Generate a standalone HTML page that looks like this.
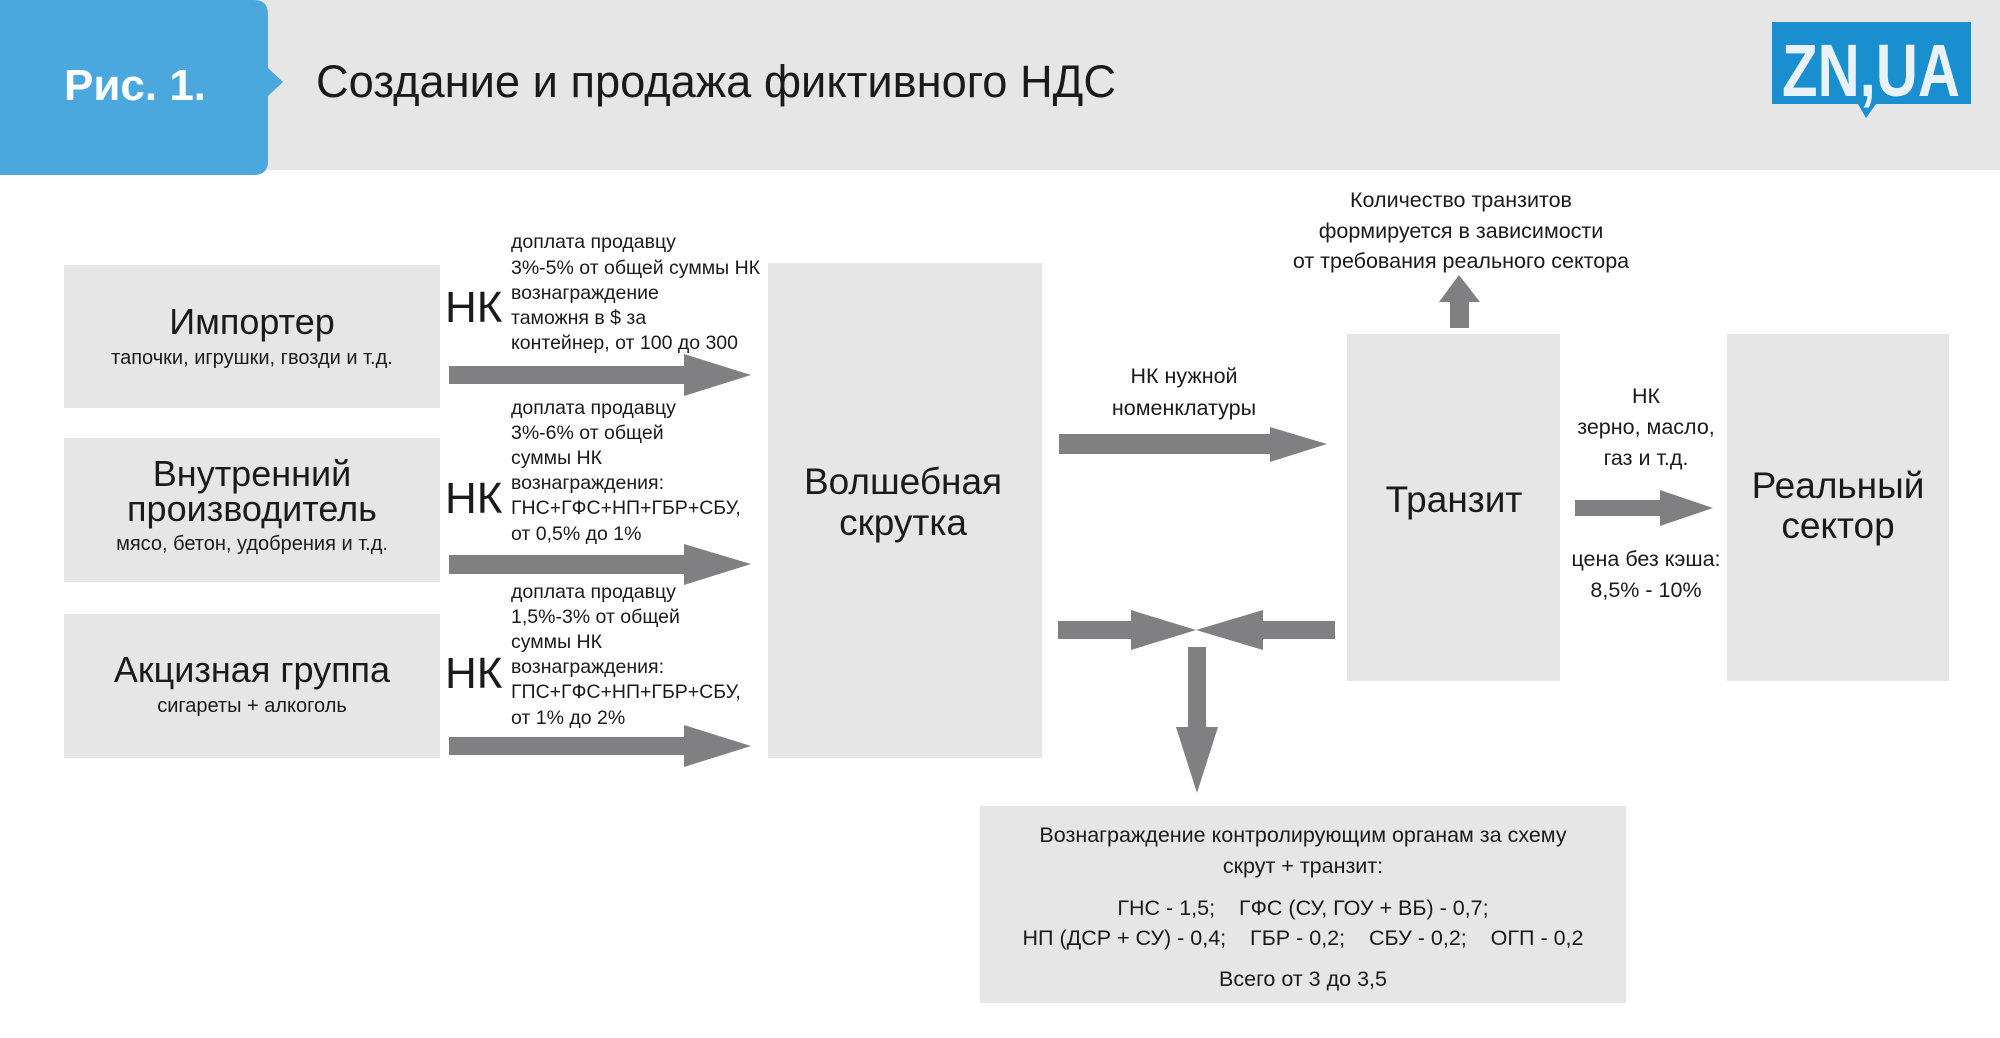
<!DOCTYPE html>
<html><head><meta charset="utf-8"><style>
html,body{margin:0;padding:0;background:#fff}
svg{display:block}
text{font-family:"Liberation Sans",sans-serif;fill:#1a1a1a;white-space:pre}
</style></head><body>
<svg width="2000" height="1038" viewBox="0 0 2000 1038" xmlns="http://www.w3.org/2000/svg" xml:space="preserve">
<rect x="0" y="0" width="2000" height="170" fill="#e6e6e6"/>
<path d="M0 0 H254 Q268 0 268 14 V68 L283 82 L268 96 V161 Q268 175 254 175 H0 Z" fill="#4aa8de"/>
<text x="64" y="100" font-size="44" font-weight="bold" style="fill:#fff">Рис. 1.</text>
<text x="316" y="97" font-size="45" textLength="800" lengthAdjust="spacingAndGlyphs">Создание и продажа фиктивного НДС</text>
<rect x="1772" y="22" width="199" height="82" fill="#1a8fd0"/>
<path d="M1858 104 L1866 118 L1876 104 Z" fill="#1a8fd0"/>
<text x="1871" y="96" font-size="74" font-weight="bold" text-anchor="middle" style="fill:#e8f2f8" textLength="178" lengthAdjust="spacingAndGlyphs">ZN,UA</text>

<g fill="#e6e6e6">
<rect x="64" y="265" width="376" height="143"/>
<rect x="64" y="438" width="376" height="144"/>
<rect x="64" y="614" width="376" height="144"/>
<rect x="768" y="263" width="274" height="495"/>
<rect x="1347" y="334" width="213" height="347"/>
<rect x="1727" y="334" width="222" height="347"/>
<rect x="980" y="806" width="646" height="197"/>
</g>

<g font-size="36" text-anchor="middle">
<text x="252" y="334">Импортер</text>
<text x="252" y="486">Внутренний</text>
<text x="252" y="521">производитель</text>
<text x="252" y="682">Акцизная группа</text>
<text x="903" y="494" font-size="37">Волшебная</text>
<text x="903" y="535" font-size="37">скрутка</text>
<text x="1454" y="512" font-size="37">Транзит</text>
<text x="1838" y="498" font-size="37">Реальный</text>
<text x="1838" y="538" font-size="37">сектор</text>
</g>
<g font-size="20" text-anchor="middle">
<text x="252" y="364">тапочки, игрушки, гвозди и т.д.</text>
<text x="252" y="550">мясо, бетон, удобрения и т.д.</text>
<text x="252" y="712">сигареты + алкоголь</text>
</g>

<g font-size="44">
<text x="445" y="322">НК</text>
<text x="445" y="513">НК</text>
<text x="445" y="688">НК</text>
</g>
<g font-size="19.5">
<text x="511" y="248">доплата продавцу</text>
<text x="511" y="274">3%-5% от общей суммы НК</text>
<text x="511" y="299">вознаграждение</text>
<text x="511" y="324">таможня в $ за</text>
<text x="511" y="349">контейнер, от 100 до 300</text>
<text x="511" y="414">доплата продавцу</text>
<text x="511" y="439">3%-6% от общей</text>
<text x="511" y="464">суммы НК</text>
<text x="511" y="489">вознаграждения:</text>
<text x="511" y="514">ГНС+ГФС+НП+ГБР+СБУ,</text>
<text x="511" y="540">от 0,5% до 1%</text>
<text x="511" y="598">доплата продавцу</text>
<text x="511" y="623">1,5%-3% от общей</text>
<text x="511" y="648">суммы НК</text>
<text x="511" y="673">вознаграждения:</text>
<text x="511" y="698">ГПС+ГФС+НП+ГБР+СБУ,</text>
<text x="511" y="724">от 1% до 2%</text>
</g>

<g font-size="21.5" text-anchor="middle">
<text x="1461" y="207">Количество транзитов</text>
<text x="1461" y="238">формируется в зависимости</text>
<text x="1461" y="268">от требования реального сектора</text>
<text x="1184" y="383">НК нужной</text>
<text x="1184" y="415">номенклатуры</text>
<text x="1646" y="403">НК</text>
<text x="1646" y="434">зерно, масло,</text>
<text x="1646" y="465">газ и т.д.</text>
<text x="1646" y="566">цена без кэша:</text>
<text x="1646" y="597">8,5% - 10%</text>
<text x="1303" y="842">Вознаграждение контролирующим органам за схему</text>
<text x="1303" y="873">скрут + транзит:</text>
<text x="1303" y="915">ГНС - 1,5;    ГФС (СУ, ГОУ + ВБ) - 0,7;</text>
<text x="1303" y="945">НП (ДСР + СУ) - 0,4;    ГБР - 0,2;    СБУ - 0,2;    ОГП - 0,2</text>
<text x="1303" y="986">Всего от 3 до 3,5</text>
</g>

<g fill="#808083">
<path d="M449 366 H684 V354 L751 375 L684 396 V384 H449 Z"/>
<path d="M449 555 H684 V544 L751 564 L684 585 V574 H449 Z"/>
<path d="M449 737 H684 V725 L751 746 L684 767 V755 H449 Z"/>
<path d="M1059 434 H1270 V427 L1327 444 L1270 462 V454 H1059 Z"/>
<path d="M1575 500 H1660 V490 L1713 508 L1660 526 V516 H1575 Z"/>
<path d="M1450 328 V302 H1439 L1459 275 L1480 302 H1469 V328 Z"/>
<path d="M1058 621 H1131 V610 L1196 630 L1131 650 V639 H1058 Z"/>
<path d="M1335 621 H1263 V610 L1196 630 L1263 650 V639 H1335 Z"/>
<path d="M1188 647 H1206 V727 L1218 727 L1197 793 L1176 727 L1188 727 Z"/>
</g>
</svg>
</body></html>
